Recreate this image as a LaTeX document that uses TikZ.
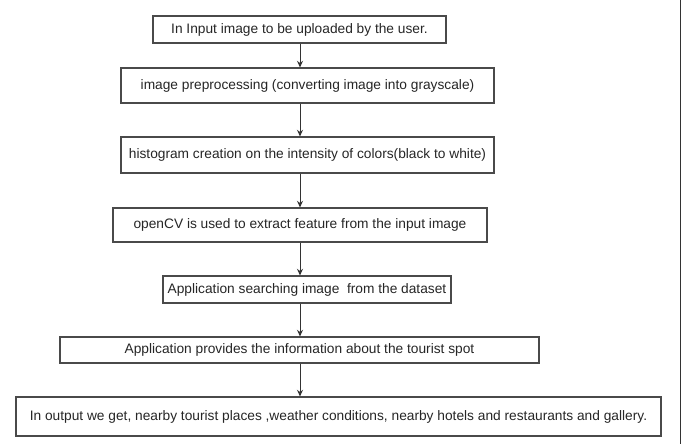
\documentclass[tikz,border=0pt]{standalone}
\usepackage{fontspec}
\setmainfont{Liberation Sans}
\usetikzlibrary{arrows.meta}
\definecolor{boxc}{HTML}{4A4A4A}
\definecolor{linec}{HTML}{333333}
\definecolor{txtc}{HTML}{262626}
\tikzset{
  box/.style={draw=boxc, line width=0.8pt, inner sep=0pt, text=txtc,
    font=\fontsize{10.3}{12}\selectfont, anchor=center},
  arr/.style={draw=linec, line width=0.75pt, -{Stealth[length=5pt,width=4.5pt]}}
}
\begin{document}
\begin{tikzpicture}[x=0.75pt,y=-0.75pt]
\useasboundingbox[fill=white] (0,0) rectangle (687,444);
\node[box, minimum width=293*0.75pt, minimum height=27*0.75pt] (b1) at (299.5,29.5) {In Input image to be uploaded by the user.};
\node[box, minimum width=373*0.75pt, minimum height=35*0.75pt] (b2) at (307.5,85.5) {image preprocessing (converting image into grayscale)};
\node[box, minimum width=373*0.75pt, minimum height=36*0.75pt] (b3) at (307.5,155) {histogram creation on the intensity of colors(black to white)};
\node[box, minimum width=374*0.75pt, minimum height=34*0.75pt] (b4) at (300,225) {openCV is used to extract feature from the input image};
\node[box, minimum width=288*0.75pt, minimum height=27*0.75pt] (b5) at (307,289.5) {Application searching image~ from the dataset};
\node[box, minimum width=479*0.75pt, minimum height=26*0.75pt] (b6) at (299.5,350) {Application provides the information about the tourist spot};
\node[box, minimum width=645*0.75pt, minimum height=39*0.75pt] (b7) at (338.5,416.5) {In output we get, nearby tourist places ,weather conditions, nearby hotels and restaurants and gallery.};
\coordinate (ax) at (300,0);
\draw[arr] (b1.south -| ax) -- (b2.north -| ax);
\draw[arr] (b2.south -| ax) -- (b3.north -| ax);
\draw[arr] (b3.south -| ax) -- (b4.north -| ax);
\draw[arr] (b4.south -| ax) -- (b5.north -| ax);
\draw[arr] (b5.south -| ax) -- (b6.north -| ax);
\draw[arr] (b6.south -| ax) -- (b7.north -| ax);
\draw[draw=linec, line width=0.75pt] (680,0) -- (680,444);
\end{tikzpicture}
\end{document}
